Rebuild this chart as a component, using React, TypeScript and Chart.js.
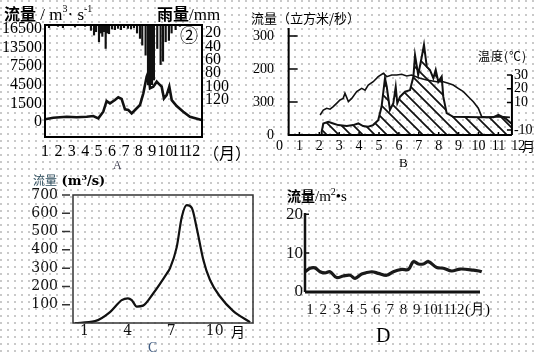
import React, { useEffect, useRef } from "react";
import { Chart, registerables } from "chart.js";
Chart.register(...registerables);

const CW = 535;
const CH = 352;
const SERIF = "'Liberation Serif', 'DejaVu Serif', serif";
const DSERIF = "'DejaVu Serif', serif";
const CJK = "'Noto Sans CJK SC', sans-serif";

// ---------- Chart A ----------
const A_MONTH_TICKS = [1, 2, 3, 4, 5, 6, 7, 8, 9, 10, 11, 12];
const A_FLOW_TICKS = [0, 1500, 4500, 7500, 13500, 16500];
const A_RAIN_TICKS = [20, 40, 60, 80, 100, 120];
const A_FLOW_MONTH = [1.0, 1.62, 2.62, 3.37, 4.11, 4.6, 4.98, 5.35, 5.6, 5.85, 6.22, 6.47, 6.72, 6.97, 7.22, 7.47, 7.72, 8.09, 8.34, 8.59, 8.71, 8.84, 9.08, 9.34, 9.46, 9.71, 9.88, 10.08, 10.28, 10.46, 10.83, 11.32, 11.82, 12.69];
const A_FLOW = [218, 347, 427, 380, 427, 484, 298, 830, 1890, 1500, 2040, 2490, 2220, 1020, 970, 700, 970, 1370, 3120, 5820, 6500, 3930, 4200, 5010, 4740, 4200, 2310, 2850, 4200, 2040, 1290, 830, 427, 160];
const A_RAIN_MONTH = [1.3, 1.97, 2.34, 3.24, 3.99, 4.43, 4.66, 4.81, 5.03, 5.18, 5.28, 5.4, 5.53, 5.63, 5.78, 6.0, 6.22, 6.45, 6.67, 6.9, 7.19, 7.42, 7.64, 7.87, 8.09, 8.26, 8.51, 8.69, 8.84, 8.99, 9.13, 9.38, 9.63, 9.81, 10.01, 10.25, 10.45, 10.75, 11.07];
const A_RAIN = [12, 10, 12, 11, 10, 16, 23, 18, 33, 20, 25, 18, 43, 20, 21, 14, 15, 13, 15, 12, 13, 14, 12, 20, 28, 38, 53, 97, 97, 97, 90, 43, 67, 62, 33, 31, 20, 15, 10];

// ---------- Chart B ----------
const B_MONTH_TICKS = [0, 1, 2, 3, 4, 5, 6, 7, 8, 9, 10, 11, 12];
const B_FLOW_TICKS = [0, 100, 200, 300];
const B_FLOW_LABELS = ["0", "300", "200", "300"];
const B_TEMP_TICKS = [30, 20, 10, -10];
const B_FLOW_MONTH = [2.1, 2.12, 2.2, 2.45, 2.7, 2.95, 3.38, 3.7, 3.96, 4.2, 4.46, 4.7, 4.96, 5.13, 5.3, 5.39, 5.55, 5.72, 5.84, 5.92, 6.06, 6.31, 6.56, 6.73, 6.81, 6.97, 7.15, 7.26, 7.4, 7.56, 7.73, 7.85, 7.98, 8.15, 8.23, 8.4, 8.73, 10.08, 10.75, 11.0, 11.2, 11.4, 11.65];
const B_FLOW = [0, 10, 35, 40, 35, 30, 27, 30, 35, 27, 25, 30, 45, 86, 172, 146, 76, 96, 146, 96, 116, 131, 136, 177, 242, 182, 237, 273, 207, 197, 172, 197, 161, 177, 116, 66, 55, 54, 54, 61, 55, 48, 35];
const B_TEMP_MONTH = [2.04, 2.2, 2.37, 2.54, 2.7, 2.87, 3.04, 3.2, 3.29, 3.46, 3.63, 3.88, 4.13, 4.3, 4.46, 4.71, 4.96, 5.22, 5.39, 5.64, 5.89, 6.14, 6.39, 6.64, 7.06, 7.4, 7.9, 8.23, 8.48, 8.73, 8.98, 9.24, 9.49, 9.74, 9.99, 10.16, 10.41, 11.08, 11.58];
const B_TEMP = [0.9, 4.5, 5.8, 5.1, 7, 9.4, 11.8, 13, 16.7, 10.6, 13, 17.9, 20.3, 19, 22.7, 25.1, 28.8, 31.2, 28.8, 30, 30, 30.5, 29.3, 30, 27.6, 26.4, 25.1, 25.1, 24, 22.7, 20.3, 17.9, 14.2, 10.6, 5.8, -0.3, -0.8, -0.3, -0.8];
const B_YAXIS_AT = 0.46;
const B_TEMP_AXIS_AT = 11.68;

// ---------- Chart C ----------
const C_MONTH_TICKS = [1, 4, 7, 10];
const C_FLOW_TICKS = [100, 200, 300, 400, 500, 600, 700];
const C_MONTH = [0.35, 1.73, 2.77, 3.58, 4.01, 4.27, 4.62, 5.05, 5.74, 6.69, 6.92, 7.38, 7.73, 8.07, 8.42, 8.76, 9.22, 9.68, 10.37, 11.29, 12.45];
const C_FLOW = [0, 10, 60, 125, 135, 125, 90, 95, 160, 270, 300, 415, 580, 645, 630, 520, 345, 235, 145, 65, 5];

// ---------- Chart D ----------
const D_MONTH_TICKS = [1, 2, 3, 4, 5, 6, 7, 8, 9, 10, 11, 12];
const D_FLOW_TICKS = [0, 10, 20];
const D_MONTH = [0.63, 1.0, 1.37, 1.75, 2.12, 2.5, 3.0, 3.49, 4.0, 4.37, 4.87, 5.62, 6.11, 6.75, 7.24, 7.87, 8.37, 8.74, 9.12, 9.49, 9.86, 10.49, 10.99, 11.61, 12.24, 13.23, 13.86, 14.36];
const D_FLOW = [5.2, 6.1, 6.2, 5.2, 4.9, 5.2, 3.7, 4.1, 4.3, 3.5, 4.6, 5.2, 4.8, 4.3, 5.2, 5.8, 5.8, 7.8, 7.2, 7.2, 7.8, 6.3, 6.1, 5.4, 5.9, 5.6, 5.2, 4.1];

// piecewise position on A's uneven flow axis
function flowToIndex(v: number): number {
  for (let i = 0; i < A_FLOW_TICKS.length - 1; i++) {
    const a = A_FLOW_TICKS[i], b = A_FLOW_TICKS[i + 1];
    if (v <= b) return i + (v - a) / (b - a);
  }
  return A_FLOW_TICKS.length - 1;
}

type Area = { l: number; t: number; r: number; b: number };
function pad(a: Area, yw: number, xh: number, rw = 0) {
  return { left: a.l - yw, top: a.t, right: CW - a.r - rw, bottom: CH - a.b - xh };
}

const noGrid = { display: false, drawTicks: false };
const noBorder = { display: false };
const base = {
  responsive: false,
  maintainAspectRatio: false,
  animation: false,
  devicePixelRatio: 1,
  events: [],
};
const noPlugins = { legend: { display: false }, tooltip: { enabled: false }, title: { display: false } };

function setTicks(vals: number[]) {
  return (s: any) => {
    s.ticks = vals.map((v) => ({ value: v }));
  };
}

function makeHatch() {
  const c = document.createElement("canvas");
  const s = 12;
  c.width = s;
  c.height = s;
  const g = c.getContext("2d")!;
  g.strokeStyle = "#111";
  g.lineWidth = 1.7;
  g.beginPath();
  g.moveTo(-2, -2);
  g.lineTo(s + 2, s + 2);
  g.moveTo(-s - 2, -2);
  g.lineTo(2, s + 2);
  g.moveTo(s - 2, -2);
  g.lineTo(2 * s + 2, s + 2);
  g.stroke();
  return g.createPattern(c, "repeat");
}

function buildA(): any {
  const area = { l: 45, t: 25, r: 202, b: 137 };
  return {
    type: "bar",
    data: {
      datasets: [
        {
          type: "line",
          data: A_FLOW_MONTH.map((m, i) => ({ x: m, y: flowToIndex(A_FLOW[i]) })),
          borderColor: "#111",
          borderWidth: 2.6,
          pointRadius: 0,
          tension: 0,
          yAxisID: "y",
        },
        {
          type: "bar",
          data: A_RAIN_MONTH.map((m, i) => ({ x: m, y: [0, A_RAIN[i]] })),
          backgroundColor: "#111",
          barThickness: 1.5,
          yAxisID: "y2",
        },
      ],
    },
    options: {
      ...base,
      layout: { padding: pad(area, 45, 25, 40) },
      plugins: noPlugins,
      scales: {
        x: {
          type: "linear",
          min: 1,
          max: 12.72,
          offset: false,
          grid: noGrid,
          border: noBorder,
          afterBuildTicks: setTicks(A_MONTH_TICKS),
          afterFit: (s: any) => { s.height = 25; },
          ticks: { autoSkip: false, maxRotation: 0, minRotation: 0, padding: 5, color: "#000", font: { family: SERIF, size: 16 }, callback: (v: any) => String(v) },
        },
        y: {
          type: "linear",
          position: "left",
          min: -0.806,
          max: 5.215,
          grid: noGrid,
          border: noBorder,
          afterBuildTicks: setTicks([0, 1, 2, 3, 4, 5]),
          afterFit: (s: any) => { s.width = 45; },
          ticks: { padding: 3, color: "#000", font: { family: SERIF, size: 16 }, callback: (_v: any, i: number) => String(A_FLOW_TICKS[i]) },
        },
        y2: {
          type: "linear",
          position: "right",
          reverse: true,
          min: 8,
          max: 175,
          grid: noGrid,
          border: noBorder,
          afterBuildTicks: setTicks(A_RAIN_TICKS),
          afterFit: (s: any) => { s.width = 40; },
          ticks: { padding: 3, color: "#000", font: { family: SERIF, size: 16 }, callback: (v: any) => String(v) },
        },
      },
    },
    plugins: [
      {
        id: "boxA",
        afterDraw(chart: any) {
          const { ctx, chartArea: a } = chart;
          ctx.save();
          ctx.strokeStyle = "#000";
          ctx.lineWidth = 2;
          ctx.strokeRect(a.left, a.top, a.right - a.left, a.bottom - a.top);
          ctx.restore();
        },
      },
    ],
  };
}

function buildB(): any {
  const area = { l: 279.5, t: 28, r: 518.3, b: 135 };
  return {
    type: "line",
    data: {
      datasets: [
        {
          data: B_FLOW_MONTH.map((m, i) => ({ x: m, y: B_FLOW[i] })),
          borderColor: "#111",
          borderWidth: 2,
          backgroundColor: makeHatch(),
          fill: "origin",
          pointRadius: 0,
          tension: 0,
          yAxisID: "y",
        },
        {
          data: B_TEMP_MONTH.map((m, i) => ({ x: m, y: B_TEMP[i] })),
          borderColor: "#111",
          borderWidth: 1.6,
          fill: false,
          pointRadius: 0,
          tension: 0,
          yAxisID: "yT",
        },
      ],
    },
    options: {
      ...base,
      layout: { padding: pad(area, 39.5, 30, 0) },
      plugins: noPlugins,
      scales: {
        x: {
          type: "linear",
          min: 0,
          max: 12,
          offset: false,
          grid: noGrid,
          border: noBorder,
          afterBuildTicks: setTicks(B_MONTH_TICKS),
          afterFit: (s: any) => { s.height = 30; },
          ticks: { autoSkip: false, maxRotation: 0, minRotation: 0, padding: 3.3, color: "#000", font: { family: SERIF, size: 14 }, callback: (v: any) => String(v) },
        },
        y: {
          type: "linear",
          position: "left",
          min: 0,
          max: 324,
          grid: noGrid,
          border: noBorder,
          afterBuildTicks: setTicks(B_FLOW_TICKS),
          afterFit: (s: any) => { s.width = 39.5; },
          ticks: { padding: 5.5, color: "#000", font: { family: SERIF, size: 14 }, callback: (_v: any, i: number) => B_FLOW_LABELS[i] },
        },
        yT: {
          type: "linear",
          position: "right",
          display: false,
          min: -13.64,
          max: 64.18,
        },
      },
    },
    plugins: [
      {
        id: "axesB",
        afterDraw(chart: any) {
          const { ctx } = chart;
          const xs = chart.scales.x, ys = chart.scales.y, yt = chart.scales.yT;
          const x0 = xs.getPixelForValue(B_YAXIS_AT);
          const xT = xs.getPixelForValue(B_TEMP_AXIS_AT);
          const bottom = ys.bottom;
          ctx.save();
          ctx.strokeStyle = "#000";
          ctx.lineWidth = 2;
          ctx.beginPath();
          ctx.moveTo(x0, ys.top);
          ctx.lineTo(x0, bottom);
          ctx.lineTo(xT, bottom);
          ctx.moveTo(xT, yt.getPixelForValue(B_TEMP_TICKS[0]));
          ctx.lineTo(xT, bottom);
          ctx.stroke();
          ctx.lineWidth = 1.5;
          ctx.beginPath();
          B_FLOW_TICKS.slice(1).forEach((v) => {
            const y = ys.getPixelForValue(v);
            ctx.moveTo(x0, y);
            ctx.lineTo(x0 + 9, y);
          });
          B_MONTH_TICKS.slice(1, 12).forEach((m) => {
            const x = xs.getPixelForValue(m);
            ctx.moveTo(x, bottom);
            ctx.lineTo(x, bottom - 3);
          });
          B_TEMP_TICKS.forEach((v) => {
            const y = yt.getPixelForValue(v);
            ctx.moveTo(xT - 5, y);
            ctx.lineTo(xT, y);
          });
          ctx.stroke();
          ctx.fillStyle = "#000";
          ctx.font = `14px ${SERIF}`;
          ctx.textAlign = "left";
          ctx.textBaseline = "middle";
          B_TEMP_TICKS.forEach((v) => {
            ctx.fillText(String(v), xT + 2, yt.getPixelForValue(v));
          });
          ctx.restore();
        },
      },
    ],
  };
}

function buildC(): any {
  const area = { l: 73, t: 195, r: 253, b: 323 };
  return {
    type: "line",
    data: {
      datasets: [
        {
          data: C_MONTH.map((m, i) => ({ x: m, y: C_FLOW[i] })),
          borderColor: "#111",
          borderWidth: 2.2,
          pointRadius: 0,
          cubicInterpolationMode: "monotone",
          fill: false,
        },
      ],
    },
    options: {
      ...base,
      layout: { padding: pad(area, 53, 25, 0) },
      plugins: noPlugins,
      scales: {
        x: {
          type: "linear",
          min: 0.213,
          max: 12.65,
          offset: false,
          grid: noGrid,
          border: noBorder,
          afterBuildTicks: setTicks(C_MONTH_TICKS),
          afterFit: (s: any) => { s.height = 25; },
          ticks: { autoSkip: false, maxRotation: 0, minRotation: 0, padding: 0, color: "#111", font: { family: DSERIF, size: 14 }, callback: (v: any) => String(v) },
        },
        y: {
          type: "linear",
          min: 0,
          max: 700,
          grid: noGrid,
          border: noBorder,
          afterBuildTicks: setTicks(C_FLOW_TICKS),
          afterFit: (s: any) => { s.width = 53; },
          ticks: { padding: 15, color: "#111", font: { family: DSERIF, size: 14 }, callback: (v: any) => String(v) },
        },
      },
    },
    plugins: [
      {
        id: "boxC",
        afterDraw(chart: any) {
          const { ctx, chartArea: a } = chart;
          const ys = chart.scales.y;
          ctx.save();
          ctx.strokeStyle = "#333";
          ctx.lineWidth = 1.5;
          ctx.strokeRect(a.left, a.top, a.right - a.left, a.bottom - a.top);
          ctx.beginPath();
          C_FLOW_TICKS.forEach((v) => {
            const y = ys.getPixelForValue(v);
            ctx.moveTo(a.left - 11, y);
            ctx.lineTo(a.left - 3, y);
          });
          ctx.stroke();
          ctx.restore();
        },
      },
    ],
  };
}

function buildD(): any {
  const area = { l: 305, t: 213, r: 480, b: 292 };
  return {
    type: "line",
    data: {
      datasets: [
        {
          data: D_MONTH.map((m, i) => ({ x: m, y: D_FLOW[i] })),
          borderColor: "#1a1a1a",
          borderWidth: 3.2,
          pointRadius: 0,
          tension: 0.35,
          fill: false,
          clip: false,
        },
      ],
    },
    options: {
      ...base,
      layout: { padding: pad(area, 40, 30, 0) },
      plugins: noPlugins,
      scales: {
        x: {
          type: "linear",
          min: 0.625,
          max: 13.73,
          offset: false,
          grid: noGrid,
          border: noBorder,
          afterBuildTicks: setTicks(D_MONTH_TICKS),
          afterFit: (s: any) => { s.height = 30; },
          ticks: { autoSkip: false, maxRotation: 0, minRotation: 0, padding: 9, color: "#111", font: { family: SERIF, size: 15 }, callback: (v: any) => String(v) },
        },
        y: {
          type: "linear",
          min: 0,
          max: 20.3,
          grid: noGrid,
          border: noBorder,
          afterBuildTicks: setTicks(D_FLOW_TICKS),
          afterFit: (s: any) => { s.width = 40; },
          ticks: { padding: 2, color: "#111", font: { family: SERIF, size: 17 }, callback: (v: any) => String(v) },
        },
      },
    },
    plugins: [
      {
        id: "axesD",
        afterDraw(chart: any) {
          const { ctx, chartArea: a } = chart;
          const ys = chart.scales.y;
          ctx.save();
          ctx.strokeStyle = "#111";
          ctx.lineWidth = 2.5;
          ctx.beginPath();
          ctx.moveTo(a.left, a.top);
          ctx.lineTo(a.left, a.bottom);
          ctx.stroke();
          ctx.lineWidth = 3;
          ctx.beginPath();
          ctx.moveTo(a.left, a.bottom);
          ctx.lineTo(a.right, a.bottom);
          ctx.stroke();
          ctx.lineWidth = 1.5;
          ctx.beginPath();
          D_FLOW_TICKS.slice(1).forEach((v) => {
            const y = ys.getPixelForValue(v);
            ctx.moveTo(a.left, y);
            ctx.lineTo(a.left + 4, y);
          });
          ctx.stroke();
          ctx.restore();
        },
      },
    ],
  };
}

function ChartLayer({ build }: { build: () => any }) {
  const ref = useRef<HTMLCanvasElement>(null);
  useEffect(() => {
    const chart = new Chart(ref.current as HTMLCanvasElement, build());
    return () => chart.destroy();
  }, []);
  return (
    <canvas
      ref={ref}
      width={CW}
      height={CH}
      style={{ position: "absolute", left: 0, top: 0, width: CW, height: CH }}
    />
  );
}

function T(p: { x: number; y: number; f: number; fam?: string; w?: any; c?: string; ls?: number; children: any }) {
  return (
    <div
      style={{
        position: "absolute",
        left: p.x,
        top: p.y,
        fontSize: p.f,
        lineHeight: 1,
        fontFamily: p.fam ?? SERIF,
        fontWeight: p.w ?? "normal",
        color: p.c ?? "#000",
        whiteSpace: "nowrap",
        letterSpacing: p.ls ?? 0,
      }}
    >
      {p.children}
    </div>
  );
}

const sup = (s: string, f = 10) => (
  <span style={{ fontSize: f, verticalAlign: "top", position: "relative", top: -1 }}>{s}</span>
);

export default function App() {
  return (
    <div
      style={{
        position: "fixed",
        left: 0,
        top: 0,
        width: CW,
        height: CH,
        overflow: "hidden",
        background: "#fff",
        backgroundImage: "radial-gradient(circle at 1px 1px, #c8c8c8 0.7px, transparent 1.1px)",
        backgroundSize: "7px 7px",
      }}
    >
      <ChartLayer build={buildA} />
      <ChartLayer build={buildB} />
      <ChartLayer build={buildC} />
      <ChartLayer build={buildD} />

      {/* Chart A texts */}
      <T x={4} y={5} f={16}>
        <span style={{ fontFamily: CJK, fontWeight: 700 }}>流量</span>
        <span style={{ fontSize: 17 }}> / m{sup("3")}· s{sup("-1")}</span>
      </T>
      <T x={157} y={5} f={16}>
        <span style={{ fontFamily: CJK, fontWeight: 700 }}>雨量</span>
        <span style={{ fontSize: 17 }}>/mm</span>
      </T>
      <T x={180} y={25} f={18} fam={CJK}>②</T>
      <T x={203} y={144} f={16} fam={CJK}>（月）</T>
      <T x={113} y={159} f={12} c="#445">A</T>

      {/* Chart B texts */}
      <T x={251} y={11} f={13} fam={CJK}>流量（立方米/秒）</T>
      <T x={478} y={50} f={12} fam={CJK} ls={1}>温度(℃)</T>
      <T x={522} y={139} f={13} fam={CJK}>月</T>
      <T x={399} y={156} f={13}>B</T>

      {/* Chart C texts */}
      <T x={33} y={174} f={12}>
        <span style={{ fontFamily: CJK, color: "#2f4f5f" }}>流量</span>
        <span style={{ fontFamily: DSERIF, fontWeight: 700, fontSize: 13 }}> (m{sup("3", 8)}/s)</span>
      </T>
      <T x={231} y={324} f={14} fam={CJK}>月</T>
      <T x={148} y={341} f={14} c="#3d5a80">C</T>

      {/* Chart D texts */}
      <T x={287} y={188} f={15}>
        <span style={{ fontFamily: CJK, fontWeight: 700, fontSize: 14 }}>流量</span>
        <span>/m{sup("2")}•s</span>
      </T>
      <T x={465} y={302} f={15}>(月)</T>
      <T x={376} y={325} f={20}>D</T>
    </div>
  );
}
